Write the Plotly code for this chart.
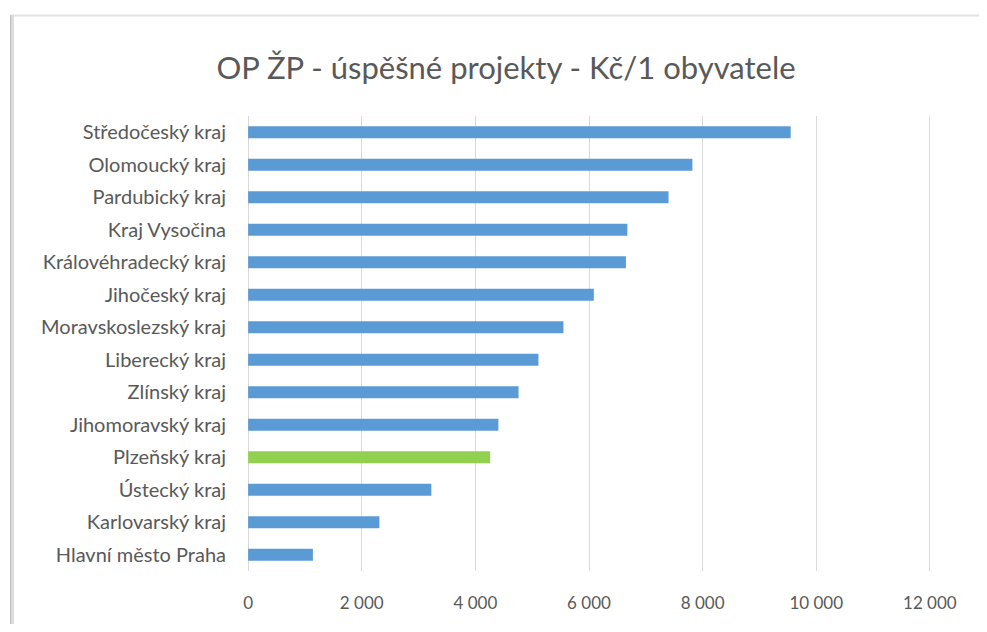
# Packages:
import plotly.graph_objects as go

# Data (Kč per inhabitant):
regions = ["Hlavní město Praha", "Karlovarský kraj", "Ústecký kraj", "Plzeňský kraj",
           "Jihomoravský kraj", "Zlínský kraj", "Liberecký kraj", "Moravskoslezský kraj",
           "Jihočeský kraj", "Královéhradecký kraj", "Kraj Vysočina", "Pardubický kraj",
           "Olomoucký kraj", "Středočeský kraj"]
values = [1140, 2310, 3225, 4260, 4405, 4760, 5110, 5550, 6085, 6650, 6675, 7400, 7820, 9550]
highlight = "Plzeňský kraj"
x_ticks = [0, 2000, 4000, 6000, 8000, 10000, 12000]

title_text = "OP ŽP - úspěšné projekty - Kč/1 obyvatele"

# Colours:
col_bar = "#5B9BD5"
col_hl = "#92D050"
col_text = "#595959"
col_grid = "#D9D9D9"

bar_colors = [col_hl if r == highlight else col_bar for r in regions]

# Geometry in window pixels (987 x 632); the page body has an 8 px margin.
# The plot area is 1 px wider on each side than 0..12 000 so that both
# end gridlines are kept by plotly.
W, H = 987, 632
off = 8
left, right_px = 247, 931
top, bottom_px = 116, 571
fig_w, fig_h = W - 2 * off, H - 2 * off
x_pad = 20

fig = go.Figure(
    data = [
        go.Bar(
            x = values,
            y = regions,
            orientation = "h",
            width = 0.37,
            marker = {
                "color": bar_colors,
                "line": {"width": 0}
            },
            hovertemplate = "<b>%{y}: %{x:,.0f}</b><extra></extra>",
            showlegend = False
        )
    ]
)

# Frame of the original chart object (top line and shadowed left edge):
def px_x(px):
    return (px - left) / (right_px - left)

def px_y(py):
    return (bottom_px - py) / (bottom_px - top)

fig.add_shape(type = "line", xref = "paper", yref = "paper",
              x0 = px_x(11), x1 = px_x(W + 5), y0 = px_y(15.5), y1 = px_y(15.5),
              line = {"color": "#E4E4E4", "width": 2})
fig.add_shape(type = "line", xref = "paper", yref = "paper",
              x0 = px_x(12), x1 = px_x(12), y0 = px_y(15), y1 = px_y(H + 5),
              line = {"color": "#DCDCDC", "width": 4})
fig.add_shape(type = "line", xref = "paper", yref = "paper",
              x0 = px_x(10.5), x1 = px_x(10.5), y0 = px_y(15), y1 = px_y(H + 5),
              line = {"color": "#BDBDBD", "width": 1})

fig.update_layout(
    width = fig_w,
    height = fig_h,
    margin = dict(l = left - off, r = fig_w - (right_px - off),
                  t = top - off, b = fig_h - (bottom_px - off)),
    paper_bgcolor = "white",
    plot_bgcolor = "white",
    separators = ", ",
    font = dict(family = "Lato, Open Sans, sans-serif", size = 17, color = col_text),
    title = dict(
        text = title_text,
        x = (506 - off) / fig_w,
        xanchor = "center",
        y = 1 - (68 - off) / fig_h,
        yanchor = "middle",
        font = dict(size = 31, color = col_text)
    ),
    xaxis = dict(
        range = [-x_pad, x_ticks[-1] + x_pad],
        tickvals = x_ticks,
        tickformat = ",d",
        showgrid = True,
        gridcolor = col_grid,
        gridwidth = 1,
        zeroline = False,
        showline = False,
        ticks = "",
        ticklabelstandoff = 20,
        tickfont = dict(size = 17, color = col_text),
        fixedrange = True
    ),
    yaxis = dict(
        categoryorder = "array",
        categoryarray = regions,
        range = [-0.5, len(regions) - 0.5],
        showgrid = False,
        zeroline = False,
        showline = False,
        ticks = "",
        ticklabelstandoff = 20,
        tickfont = dict(size = 20, color = col_text),
        fixedrange = True
    ),
    hoverlabel = dict(font_size = 14)
)

fig.write_html("out.html")
